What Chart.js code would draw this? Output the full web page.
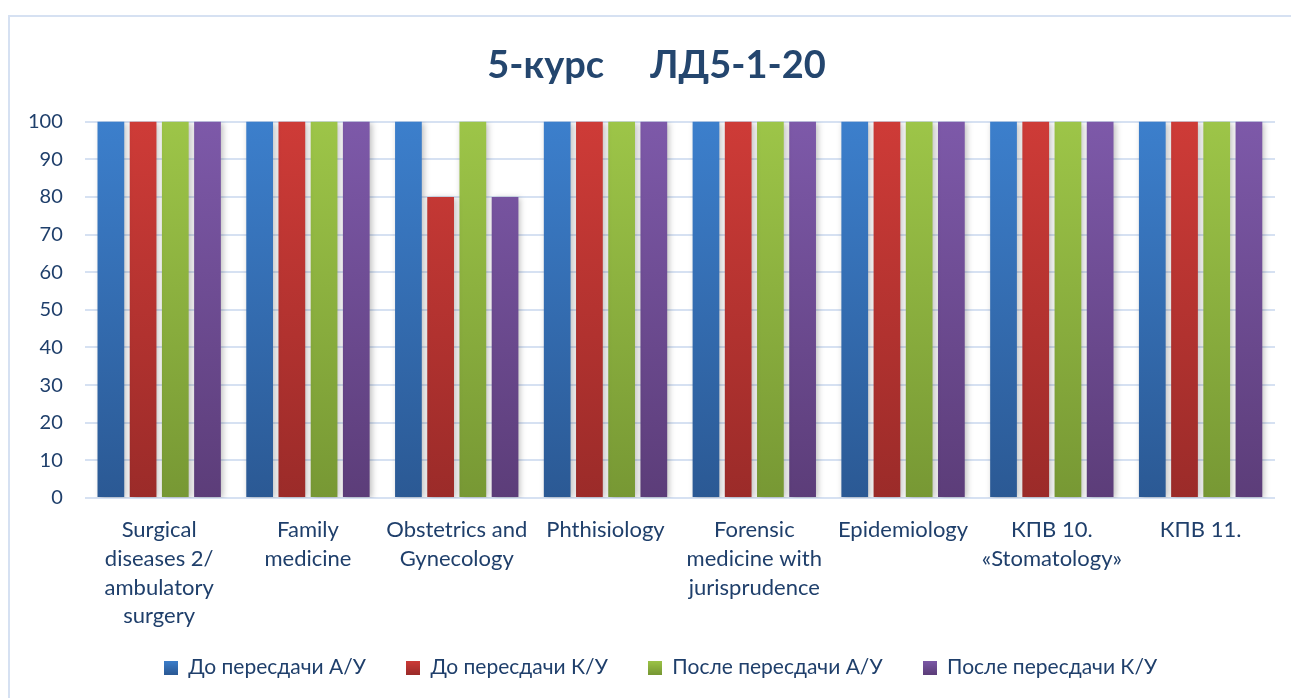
<!DOCTYPE html>
<html>
<head>
<meta charset="utf-8">
<script src="https://cdn.jsdelivr.net/npm/chart.js@4"></script>
<style>
  html, body { margin: 0; padding: 0; background: #fff; }
  #wrap { width: 1291px; height: 698px; }
</style>
</head>
<body>
<div id="wrap"><canvas id="myChart" width="1291" height="698"></canvas></div>
<script>
const titleText = '5-курс     ЛД5-1-20';

const categories = [
  ['Surgical', 'diseases 2/', 'ambulatory', 'surgery'],
  ['Family', 'medicine'],
  ['Obstetrics and', 'Gynecology'],
  ['Phthisiology'],
  ['Forensic', 'medicine with', 'jurisprudence'],
  ['Epidemiology'],
  ['КПВ 10.', '«Stomatology»'],
  ['КПВ 11.']
];

const seriesNames = ['До пересдачи А/У', 'До пересдачи К/У', 'После пересдачи А/У', 'После пересдачи К/У'];

const beforeAU = [100, 100, 100, 100, 100, 100, 100, 100];
const beforeKU = [100, 100, 80, 100, 100, 100, 100, 100];
const afterAU = [100, 100, 100, 100, 100, 100, 100, 100];
const afterKU = [100, 100, 80, 100, 100, 100, 100, 100];

const yTicks = [0, 10, 20, 30, 40, 50, 60, 70, 80, 90, 100];

// top / bottom colours of each series gradient
const colorsTop = ['#3c7fcc', '#ce3b37', '#9dc548', '#7d59a9'];
const colorsBottom = ['#2b5994', '#9b2b29', '#779834', '#5c3d79'];

const textColor = '#1f3f6b';
const fontFamily = 'Lato, "Noto Sans", "DejaVu Sans", sans-serif';

function makeGradient(i) {
  return function (context) {
    const chart = context.chart;
    const area = chart.chartArea;
    if (!area) return colorsTop[i];
    const g = chart.ctx.createLinearGradient(0, area.top, 0, area.bottom);
    g.addColorStop(0, colorsTop[i]);
    g.addColorStop(1, colorsBottom[i]);
    return g;
  };
}

function legendBox(i) {
  const c = document.createElement('canvas');
  c.width = 14; c.height = 14;
  const x = c.getContext('2d');
  const g = x.createLinearGradient(0, 0, 0, 14);
  g.addColorStop(0, colorsTop[i]);
  g.addColorStop(1, colorsBottom[i]);
  x.fillStyle = g;
  x.fillRect(0, 0, 14, 14);
  return c;
}

const frame = {
  id: 'frame',
  beforeDraw(chart) {
    const c = chart.ctx;
    c.save();
    c.strokeStyle = '#d6e1f2';
    c.lineWidth = 2;
    c.strokeRect(9, 16, 1300, 700);
    c.restore();
  }
};

const shadow = {
  id: 'shadow',
  beforeDatasetsDraw(chart) {
    const c = chart.ctx;
    c.save();
    c.shadowColor = 'rgba(0,0,0,0.25)';
    c.shadowBlur = 6;
    c.shadowOffsetX = 2;
    c.shadowOffsetY = 1;
  },
  afterDatasetsDraw(chart) {
    chart.ctx.restore();
  }
};

// nudge title and legend a bit, like in the original picture
const nudge = {
  id: 'nudge',
  afterLayout(chart) {
    const lg = chart.legend;
    lg.top -= 15; lg.bottom -= 15;
    lg.left += 20; lg.right += 20;
    const t = chart.titleBlock;
    t.left += 16; t.right += 16;
  }
};

const allSeries = [beforeAU, beforeKU, afterAU, afterKU];

const ctx = document.getElementById('myChart');

const chart = new Chart(ctx, {
  type: 'bar',
  data: {
    labels: categories,
    datasets: allSeries.map((d, i) => ({
      label: seriesNames[i],
      data: d,
      backgroundColor: makeGradient(i),
      borderWidth: 0,
      categoryPercentage: 0.866,
      barPercentage: 0.83
    }))
  },
  options: {
    responsive: false,
    animation: false,
    layout: { padding: { top: 43, left: 6, right: 16, bottom: -5 } },
    plugins: {
      title: {
        display: true,
        text: titleText,
        color: '#24466e',
        font: { family: fontFamily, size: 38, weight: 'bold' },
        padding: { top: 0, bottom: 33 }
      },
      legend: {
        position: 'bottom',
        labels: {
          color: textColor,
          font: { family: fontFamily, size: 21 },
          usePointStyle: true,
          pointStyleWidth: 14,
          padding: 40,
          generateLabels(ch) {
            return ch.data.datasets.map((ds, i) => ({
              text: ds.label,
              pointStyle: legendBox(i),
              fontColor: textColor,
              datasetIndex: i,
              hidden: false,
              lineWidth: 0
            }));
          }
        }
      },
      tooltip: { enabled: false }
    },
    scales: {
      x: {
        grid: { display: false, drawTicks: false },
        border: { display: false },
        afterFit(scale) { scale.height = 134; },
        ticks: {
          color: textColor,
          font: { family: fontFamily, size: 22, lineHeight: 1.3 },
          maxRotation: 0,
          autoSkip: false,
          padding: 18
        }
      },
      y: {
        min: 0,
        max: 100,
        afterBuildTicks(axis) {
          axis.ticks = yTicks.map(v => ({ value: v }));
        },
        grid: { color: '#d6e1f2', lineWidth: 2, drawTicks: false },
        border: { display: false },
        ticks: {
          color: textColor,
          font: { family: fontFamily, size: 20 },
          padding: 22
        }
      }
    }
  },
  plugins: [frame, shadow, nudge]
});
</script>
</body>
</html>
